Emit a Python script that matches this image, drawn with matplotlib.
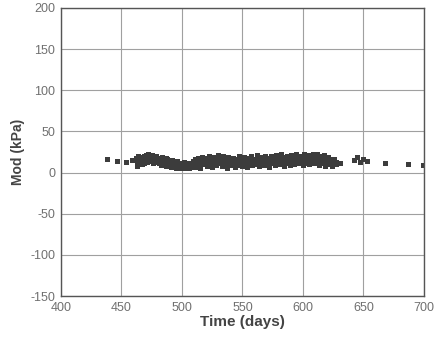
import numpy as np
import matplotlib
matplotlib.use("Agg")
import matplotlib.pyplot as plt

plt.rcParams['font.family'] = ['Liberation Sans', 'DejaVu Sans']
plt.rcParams['axes.unicode_minus'] = False

# Sparse early points
early_days = [438, 446, 454, 459]
early_vals = [16, 14, 13, 15]

# Dense band: morning readings (one per day from day 462)
band_start = 462
band_am = [
    18, 8, 20, 12, 19, 10, 16, 20,
    21, 18, 22, 15, 20, 17, 12, 19, 16, 13,
    18, 11, 15, 9, 17, 12, 14, 8, 16, 10,
    13, 7, 15, 9, 12, 6, 14, 8, 11, 5,
    10, 6, 13, 7, 9, 12, 5, 11, 8, 14,
    9, 16, 7, 18, 11, 6, 15, 19, 10, 13,
    17, 8, 20, 12, 16, 7, 19, 14, 9, 18,
    21, 11, 17, 8, 20, 13, 15, 6, 19, 10,
    16, 9, 18, 12, 7, 17, 14, 20, 10, 15,
    8, 19, 13, 16, 7, 18, 11, 20, 9, 15,
    17, 10, 21, 12, 8, 19, 14, 16, 9, 20,
    11, 18, 7, 15, 20, 12, 17, 9, 21, 13,
    16, 10, 22, 14, 8, 19, 12, 20, 15, 9,
    21, 13, 17, 10, 23, 15, 11, 20, 14, 18,
    9, 22, 16, 12, 21, 10, 19, 14, 23, 11,
    18, 13, 22, 9, 20, 15, 12, 21, 8, 17,
    14, 19, 10, 16, 8, 12, 15, 10,
]
# Dense band: evening readings (half a day later)
band_pm = [
    13, 15, 11, 17, 14, 18, 12, 15,
    16, 13, 18, 20, 14, 21, 18, 14, 20, 17,
    14, 16, 12, 19, 13, 10, 18, 14, 11, 15,
    9, 12, 10, 13, 8, 11, 10, 12, 8, 10,
    7, 9, 8, 11, 6, 8, 10, 7, 12, 9,
    13, 11, 14, 12, 15, 16, 11, 13, 16, 18,
    12, 15, 14, 17, 11, 14, 13, 17, 15, 12,
    14, 17, 12, 15, 11, 18, 10, 14, 13, 16,
    12, 14, 11, 17, 15, 11, 9, 13, 17, 12,
    16, 12, 17, 10, 14, 12, 16, 13, 17, 12,
    13, 15, 16, 11, 18, 13, 10, 12, 17, 14,
    15, 13, 16, 11, 14, 17, 11, 15, 13, 17,
    12, 17, 15, 11, 17, 13, 16, 11, 18, 14,
    15, 18, 12, 19, 14, 12, 19, 15, 17, 12,
    16, 14, 11, 19, 15, 17, 12, 18, 15, 17,
    13, 19, 15, 17, 12, 19, 16, 13, 17, 12,
    11, 13, 17, 12, 14, 17, 10, 13,
]
band_days = list(range(band_start, band_start + len(band_am)))
band_days_pm = [d + 0.5 for d in band_days]

# Sparse late points
late_days = [631, 642, 645, 647, 650, 653, 668, 687, 699]
late_vals = [12, 15, 19, 13, 17, 14, 11, 10, 9]

days = early_days + band_days + band_days_pm + late_days
vals = early_vals + band_am + band_pm + late_vals

xticks = [400, 450, 500, 550, 600, 650, 700]
yticks = [-150, -100, -50, 0, 50, 100, 150, 200]

fig = plt.figure(figsize=(4.38, 3.44), dpi=100)
ax = fig.add_axes([0.139, 0.1395, 0.829, 0.8375])
ax.plot(days, vals, linestyle='none', marker='s', markersize=3.6,
        color='#3c3c3c', markeredgewidth=0)
ax.set_xlim(400, 700)
ax.set_ylim(-150, 200)
ax.set_xticks(xticks)
ax.set_yticks(yticks)
ax.grid(True, color='#a0a0a0', linewidth=0.8)
ax.set_axisbelow(True)
for s in ax.spines.values():
    s.set_color('#555555')
    s.set_linewidth(1.0)
ax.tick_params(axis='both', length=0, labelsize=9, labelcolor='#707070', pad=4)
ax.set_xlabel('Time (days)', fontsize=11, fontweight='bold', color='#444444', labelpad=1)
ax.set_ylabel('Mod (kPa)', fontsize=10, fontweight='bold', color='#444444', labelpad=4)
fig.savefig('out.png', dpi=100)
